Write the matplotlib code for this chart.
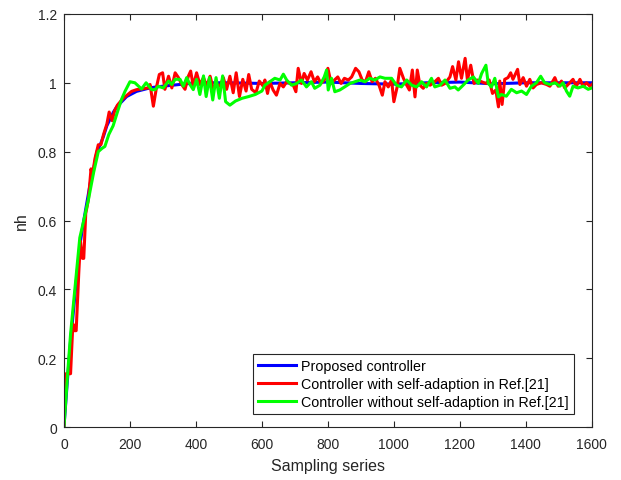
import numpy as np
import matplotlib
matplotlib.use("Agg")
import matplotlib.pyplot as plt

plt.rcParams['font.family'] = ['Liberation Sans', 'DejaVu Sans']

# Proposed controller (smooth)
x_blue = [0, 10, 20, 30, 40, 50, 60, 70, 80, 90, 100, 110, 120, 130, 140, 150, 160, 170,
          180, 190, 200, 220, 240, 260, 280, 300, 350, 400, 500, 600, 700, 800, 900, 1000,
          1100, 1200, 1300, 1400, 1500, 1600]
y_blue = [0.0, 0.13, 0.25, 0.35, 0.45, 0.54, 0.60, 0.655, 0.71, 0.75, 0.80, 0.82, 0.845, 0.875,
          0.895, 0.915, 0.93, 0.94, 0.95, 0.96, 0.965, 0.975, 0.98, 0.985, 0.988, 0.99, 0.995,
          1.0, 1.0, 0.998, 1.0, 1.002, 0.998, 0.996, 1.0, 1.002, 0.997, 1.0, 1.0, 1.0]

# Controller with self-adaption in Ref.[21]
x_red = [0, 6, 20, 27, 31, 37, 45, 50, 56, 60, 66, 74, 82, 86, 94, 104, 112, 120, 130, 137,
         146, 154, 162, 175, 190, 205, 220, 240, 255,
         261, 271, 281, 289, 299, 306, 317, 327, 337, 347, 357, 367, 377, 384, 392, 402, 412,
         423, 433, 443, 453, 463, 473, 483, 493, 503, 513, 522, 532, 542, 552, 560, 569, 582,
         592, 604,
         609, 617, 624, 634, 644, 655, 665, 675, 685, 695, 703, 710, 720, 728, 738, 749, 759,
         769, 779, 789, 800, 810, 820, 830, 840, 850, 862, 872, 884, 894, 904, 914, 924, 934,
         944, 955, 965,
         973, 983, 993, 1000, 1010, 1018, 1029, 1039, 1047, 1056, 1064, 1071, 1079, 1089, 1099,
         1110, 1124, 1135, 1145, 1155, 1170, 1178, 1188, 1196, 1205, 1216, 1223, 1233, 1243,
         1253, 1266, 1279, 1289, 1299, 1309, 1317,
         1321, 1328, 1336, 1346, 1354, 1361, 1375, 1382, 1392, 1402, 1412, 1422, 1432, 1447,
         1463, 1473, 1488, 1498, 1508, 1518, 1533, 1543, 1553, 1564, 1574, 1584, 1594, 1600]
y_red = [0.0, 0.155, 0.155, 0.30, 0.28, 0.28, 0.45, 0.54, 0.49, 0.49, 0.62, 0.66, 0.75, 0.73,
         0.78, 0.82, 0.82, 0.85, 0.88, 0.915, 0.89, 0.92, 0.935, 0.95, 0.963, 0.975, 0.98,
         0.983, 0.985,
         0.995, 0.932, 0.99, 1.024, 1.029, 0.981, 1.019, 0.985, 1.029, 1.015, 0.995, 0.981,
         1.019, 1.034, 0.99, 1.029, 0.995, 1.015, 0.99, 1.019, 0.981, 0.995, 0.99, 1.015, 0.981,
         1.019, 0.971, 1.029, 0.96, 1.01, 0.976, 1.024, 0.981, 0.971, 1.005, 0.99,
         1.008, 0.969, 1.003, 0.979, 0.964, 0.998, 0.988, 1.003, 0.998, 0.993, 0.974, 1.042,
         0.998, 1.027, 1.008, 1.032, 1.003, 1.017, 0.998, 1.008, 1.042, 0.998, 1.008, 1.017,
         0.998, 1.013, 1.008, 1.017, 1.042, 1.032, 1.008, 1.003, 1.032, 1.003, 1.013, 0.993,
         0.964,
         1.003, 0.988, 1.008, 0.945, 0.988, 1.042, 1.013, 0.993, 0.979, 1.037, 0.959, 1.037,
         0.993, 0.984, 0.998, 0.993, 1.003, 1.013, 0.993, 0.998, 1.017, 1.047, 1.008, 1.061,
         1.013, 1.071, 1.008, 1.051, 0.998, 1.008, 1.003, 0.998, 1.008, 0.969, 0.979, 0.93,
         1.005, 0.937, 1.01, 1.015, 1.029, 1.01, 1.039, 0.995, 1.015, 0.99, 1.01, 0.985, 0.995,
         1.0, 0.995, 0.99, 1.015, 0.99, 1.005, 0.985, 1.0, 1.01, 0.99, 1.01, 0.99, 1.0, 0.99,
         0.995]

# Controller without self-adaption in Ref.[21]
x_green = [0, 10, 20, 30, 40, 48, 60, 74, 90, 104, 116, 124, 136, 149, 162, 175, 185, 200,
           215, 235, 249, 266, 276, 286, 301, 317, 327, 337, 352, 362, 372, 382, 392, 402, 412,
           423, 431, 441, 451, 461, 471, 481, 490, 503, 520, 540, 560, 580, 600,
           609, 624, 639, 655, 665, 675, 690, 705, 720, 735, 750, 760, 776, 789, 796, 801, 811,
           821, 836, 851, 867, 882, 897, 912, 927, 942, 958, 973,
           993, 1008, 1023, 1039, 1054, 1069, 1084, 1099, 1114, 1124, 1140, 1155, 1170, 1185,
           1195, 1210, 1225, 1241, 1256, 1266, 1279, 1286, 1296, 1306, 1317,
           1326, 1341, 1356, 1372, 1387, 1402, 1417, 1432, 1445, 1457, 1473, 1488, 1503, 1513,
           1523, 1533, 1543, 1558, 1574, 1589, 1600]
y_green = [0.0, 0.14, 0.27, 0.37, 0.47, 0.55, 0.60, 0.66, 0.74, 0.80, 0.81, 0.815, 0.85, 0.875,
           0.915, 0.953, 0.975, 1.003, 1.0, 0.982, 1.0, 0.98, 0.98, 0.99, 0.985, 1.005, 0.995,
           1.01, 1.01, 0.99, 1.015, 0.995, 0.98, 1.01, 0.966, 1.02, 0.96, 1.015, 0.95, 1.015,
           0.955, 1.02, 0.945, 0.935, 0.947, 0.955, 0.96, 0.966, 0.976,
           0.993, 1.003, 1.013, 1.008, 1.025, 1.008, 0.993, 0.998, 1.008, 0.988, 1.003, 0.984,
           0.993, 1.017, 1.037, 0.979, 1.013, 0.974, 0.979, 0.988, 0.998, 1.003, 1.008, 1.003,
           1.013, 1.008, 1.017, 1.013,
           1.013, 0.993, 0.988, 1.008, 0.993, 0.988, 1.003, 0.988, 1.013, 0.988, 0.993, 1.008,
           0.984, 0.988, 0.979, 0.993, 1.008, 1.017, 0.998, 1.027, 1.051, 0.998, 0.988, 1.013,
           0.959,
           0.966, 0.961, 0.981, 0.971, 0.976, 0.966, 0.99, 1.0, 1.019, 1.0, 0.995, 1.0, 0.99,
           1.0, 0.976, 0.961, 0.99, 0.985, 0.99, 0.981, 0.985]

x_ticks = [0, 200, 400, 600, 800, 1000, 1200, 1400, 1600]
y_ticks = [0, 0.2, 0.4, 0.6, 0.8, 1.0, 1.2]
y_tick_labels = ['0', '0.2', '0.4', '0.6', '0.8', '1', '1.2']

fig = plt.figure(figsize=(6.21, 4.81), dpi=100)
ax = fig.add_axes([0.103, 0.110, 0.850, 0.859])

ax.plot(x_blue, y_blue, color=(0, 0, 1), lw=2.2, label='Proposed controller')
ax.plot(x_red, y_red, color=(1, 0, 0), lw=2.2, label='Controller with self-adaption in Ref.[21]')
ax.plot(x_green, y_green, color=(0, 1, 0), lw=2.2, label='Controller without self-adaption in Ref.[21]')

ax.set_xlim(0, 1600)
ax.set_ylim(0, 1.2)
ax.set_xticks(x_ticks)
ax.set_yticks(y_ticks)
ax.set_yticklabels(y_tick_labels)

dark = (0.15, 0.15, 0.15)
ax.tick_params(direction='in', top=True, right=True, length=4, width=0.8,
               colors=dark, labelsize=10)
ax.tick_params(axis='x', pad=7)
ax.tick_params(axis='y', pad=5)
for s in ax.spines.values():
    s.set_color(dark)
    s.set_linewidth(0.8)

ax.set_xlabel('Sampling series', fontsize=11.5, color=dark, labelpad=5)
ax.set_ylabel('nh', fontsize=11.5, color=dark, labelpad=6)

leg = ax.legend(loc='lower right', bbox_to_anchor=(0.966, 0.031), fontsize=10.3,
                fancybox=False, framealpha=1, edgecolor=dark, handlelength=2.6,
                handletextpad=0.4, borderpad=0.35, labelspacing=0.3, borderaxespad=0)
leg.get_frame().set_linewidth(0.8)

fig.savefig('out.png', dpi=100)
